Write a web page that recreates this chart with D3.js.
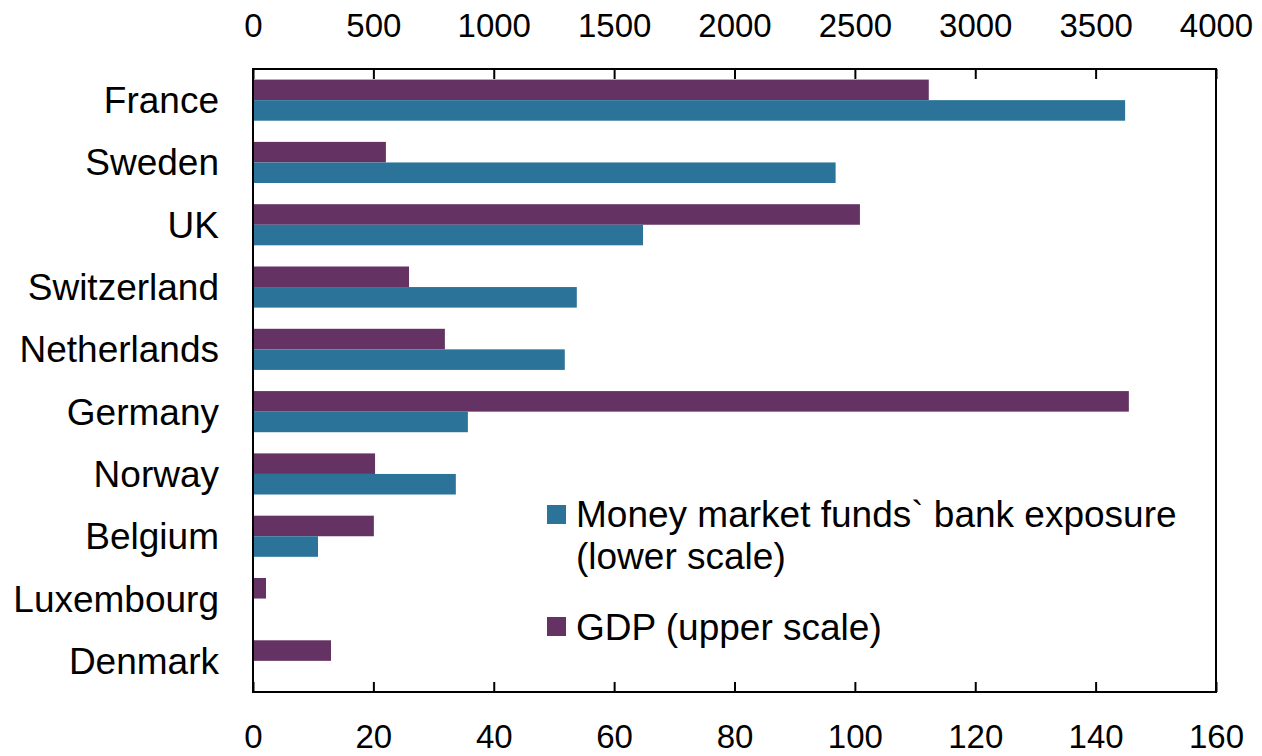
<!DOCTYPE html>
<html>
<head>
<meta charset="utf-8">
<script src="https://cdn.jsdelivr.net/npm/d3@7"></script>
<style>
  body { margin: 0; background: #fff; }
  text { font-family: "Liberation Sans", Arial, sans-serif; fill: #000; }
</style>
</head>
<body>
<script>
// countries, top to bottom
var countries = ["France", "Sweden", "UK", "Switzerland", "Netherlands", "Germany", "Norway", "Belgium", "Luxembourg", "Denmark"];
// GDP, upper scale
var gdp = [2807, 552, 2521, 648, 797, 3638, 507, 502, 54, 324];
// money market funds bank exposure, lower scale
var mmf = [144.9, 96.8, 64.8, 53.8, 51.8, 35.7, 33.7, 10.8, 0, 0];
var upperTicks = [0, 500, 1000, 1500, 2000, 2500, 3000, 3500, 4000];
var lowerTicks = [0, 20, 40, 60, 80, 100, 120, 140, 160];

var width = 1262, height = 756;
var plotLeft = 253, plotRight = 1216, plotTop = 69, plotBottom = 692;
var purple = "#653363", blue = "#2c7399";

var svg = d3.select("body").append("svg")
    .attr("width", width)
    .attr("height", height);

var xLow = d3.scaleLinear().domain([0, 160]).range([plotLeft, plotRight]);
var xUp = d3.scaleLinear().domain([0, 4000]).range([plotLeft, plotRight]);
var y = d3.scaleBand().domain(countries).range([plotTop, plotBottom]).paddingInner(0.34).paddingOuter(0.17);

// bars
var rows = svg.append("g").selectAll("g")
    .data(countries)
    .enter().append("g");

rows.append("rect")
    .attr("x", xUp(0))
    .attr("y", function(d) { return y(d); })
    .attr("height", y.bandwidth() / 2)
    .attr("width", function(d, i) { return xUp(gdp[i]) - xUp(0); })
    .attr("fill", purple);

rows.append("rect")
    .attr("x", xLow(0))
    .attr("y", function(d) { return y(d) + y.bandwidth() / 2; })
    .attr("height", y.bandwidth() / 2)
    .attr("width", function(d, i) { return xLow(mmf[i]) - xLow(0); })
    .attr("fill", blue);

// frame
svg.append("rect")
    .attr("x", plotLeft).attr("y", plotTop)
    .attr("width", plotRight - plotLeft).attr("height", plotBottom - plotTop)
    .attr("fill", "none").attr("stroke", "#000").attr("stroke-width", 2);

// axes, ticks inward
var topAxis = d3.axisTop(xUp).tickValues(upperTicks).tickFormat(d3.format("d"))
    .tickSizeInner(-10).tickSizeOuter(0).tickPadding(32);
var gTop = svg.append("g").attr("transform", "translate(0," + plotTop + ")").call(topAxis);
var botAxis = d3.axisBottom(xLow).tickValues(lowerTicks).tickFormat(d3.format("d"))
    .tickSizeInner(-10).tickSizeOuter(0).tickPadding(33);
var gBot = svg.append("g").attr("transform", "translate(0," + plotBottom + ")").call(botAxis);

[gTop, gBot].forEach(function(g) {
  g.select(".domain").remove();
  g.selectAll("line").attr("stroke", "#000").attr("stroke-width", 2);
  g.selectAll("text").attr("font-size", 33).attr("fill", "#000")
    .style("font-family", "'Liberation Sans', Arial, sans-serif");
});

// category labels
svg.append("g").selectAll("text")
    .data(countries)
    .enter().append("text")
    .attr("x", 219)
    .attr("y", function(d) { return y(d) + y.bandwidth() / 2; })
    .attr("dy", "0.35em")
    .attr("text-anchor", "end")
    .attr("font-size", 37)
    .text(function(d) { return d; });

// legend
var legend = svg.append("g");
legend.append("rect").attr("x", 547).attr("y", 505).attr("width", 19).attr("height", 19).attr("fill", blue);
legend.append("text").attr("x", 576).attr("y", 527).attr("font-size", 37).text("Money market funds` bank exposure");
legend.append("text").attr("x", 576).attr("y", 569).attr("font-size", 37).text("(lower scale)");
legend.append("rect").attr("x", 547).attr("y", 617).attr("width", 19).attr("height", 19).attr("fill", purple);
legend.append("text").attr("x", 576).attr("y", 640).attr("font-size", 37).text("GDP (upper scale)");
</script>
</body>
</html>
